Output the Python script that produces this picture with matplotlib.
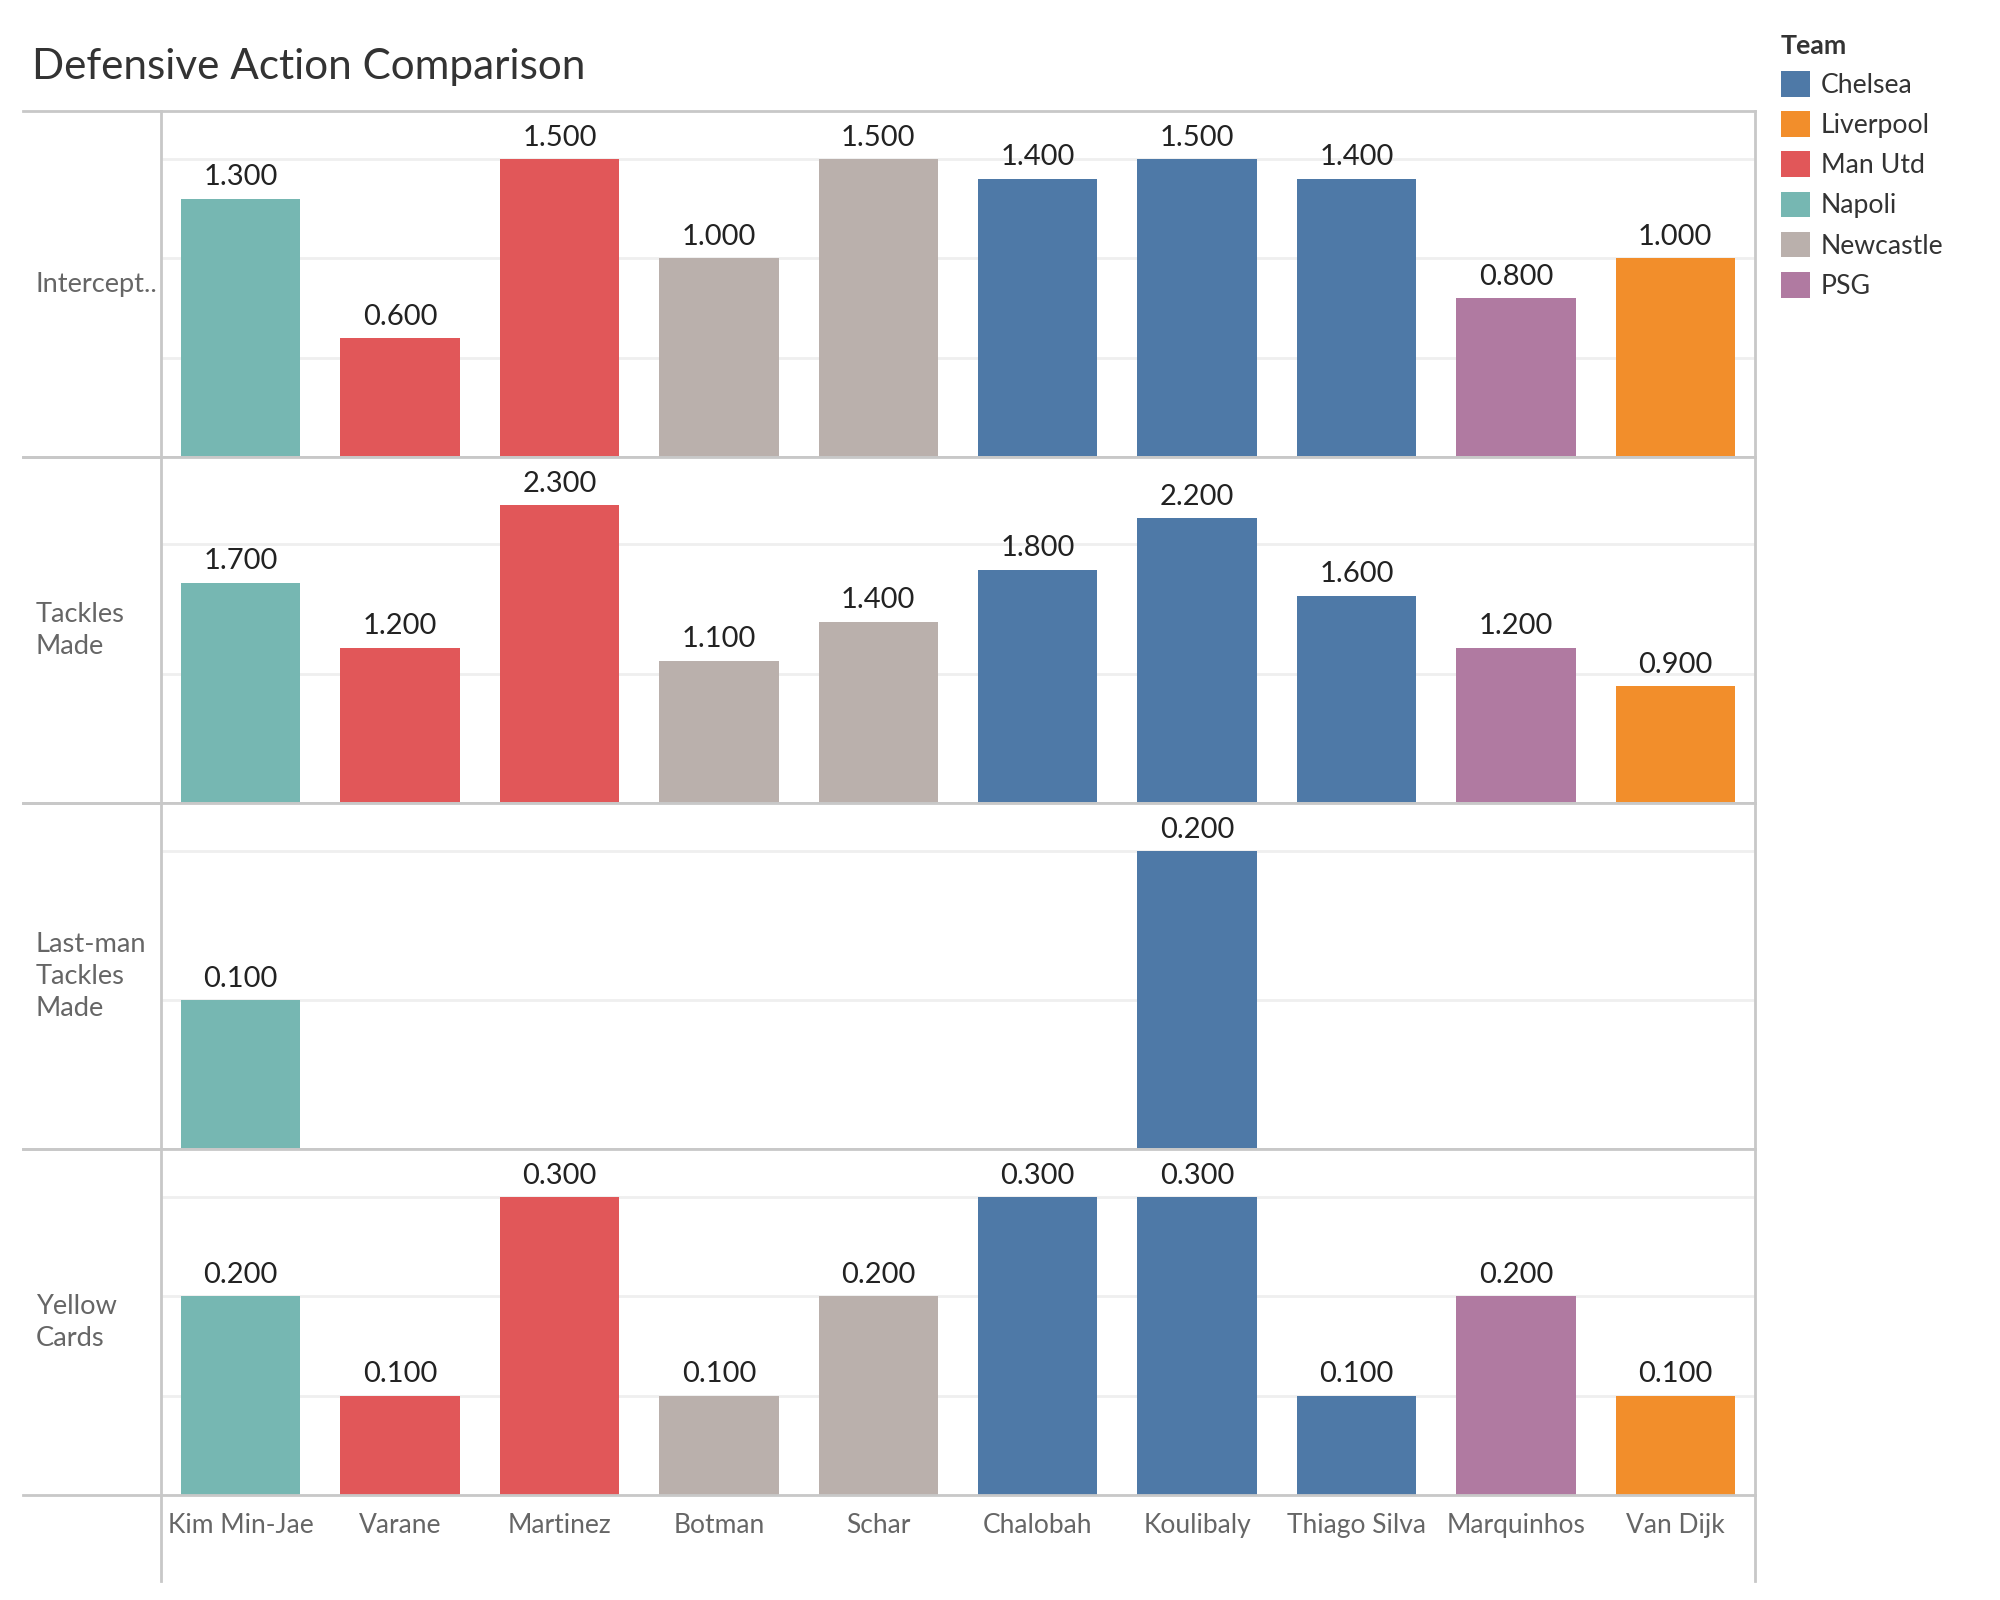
import numpy as np
import matplotlib.pyplot as plt
from matplotlib.lines import Line2D
from matplotlib.patches import Patch
from matplotlib.ticker import MultipleLocator

plt.rcParams['font.family'] = ['Lato', 'DejaVu Sans']

# --- data ---
players = ["Kim Min-Jae", "Varane", "Martinez", "Botman", "Schar",
           "Chalobah", "Koulibaly", "Thiago Silva", "Marquinhos", "Van Dijk"]
player_team = ["Napoli", "Man Utd", "Man Utd", "Newcastle", "Newcastle",
               "Chelsea", "Chelsea", "Chelsea", "PSG", "Liverpool"]

interceptions = [1.3, 0.6, 1.5, 1.0, 1.5, 1.4, 1.5, 1.4, 0.8, 1.0]
tackles_made = [1.7, 1.2, 2.3, 1.1, 1.4, 1.8, 2.2, 1.6, 1.2, 0.9]
last_man_tackles = [0.1, np.nan, np.nan, np.nan, np.nan, np.nan, 0.2, np.nan, np.nan, np.nan]
yellow_cards = [0.2, 0.1, 0.3, 0.1, 0.2, 0.3, 0.3, 0.1, 0.2, 0.1]

row_labels = ["Intercept..", "Tackles\nMade", "Last-man\nTackles\nMade", "Yellow\nCards"]
row_values = [interceptions, tackles_made, last_man_tackles, yellow_cards]
grid_steps = [0.5, 1.0, 0.1, 0.1]

teams = ["Chelsea", "Liverpool", "Man Utd", "Napoli", "Newcastle", "PSG"]
team_colors = ["#4E79A7", "#F28E2B", "#E15759", "#76B7B2", "#BAB0AC", "#B07AA1"]
color_of = dict(zip(teams, team_colors))

border = "#c8c8c8"
grid_col = "#efefef"
label_col = "#666666"

fig = plt.figure(figsize=(10, 8), dpi=200)
gs = fig.add_gridspec(4, 1, left=0.0805, right=0.8775, top=0.9305,
                      bottom=0.0655, hspace=0)

x = np.arange(len(players))
bar_colors = [color_of[t] for t in player_team]
axes = []

for i, (vals, step) in enumerate(zip(row_values, grid_steps)):
    ax = fig.add_subplot(gs[i])
    axes.append(ax)
    vals = np.array(vals, dtype=float)
    heights = np.nan_to_num(vals)
    bars = ax.bar(x, heights, width=0.75, color=bar_colors, zorder=2)
    labels = ["" if np.isnan(v) else f"{v:.3f}" for v in vals]
    ax.bar_label(bars, labels=labels, padding=3, fontsize=10.5, color="#222222")

    ax.set_xlim(-0.5, len(players) - 0.5)
    ax.set_ylim(0, np.nanmax(vals) * 1.16)
    ax.yaxis.set_major_locator(MultipleLocator(step))
    ax.grid(axis='y', color=grid_col, linewidth=1, zorder=0)
    ax.tick_params(left=False, labelleft=False, bottom=False, labelbottom=False)
    for side in ['top', 'bottom', 'left', 'right']:
        ax.spines[side].set_color(border)
        ax.spines[side].set_linewidth(1)

    # row header on the left
    pos = ax.get_position()
    fig.text(0.018, (pos.y0 + pos.y1) / 2, row_labels[i], ha='left', va='center',
             fontsize=9.8, color=label_col, linespacing=1.35)
    # header separator lines extend into the label column
    for yy in (pos.y0, pos.y1):
        fig.add_artist(Line2D([0.0115, pos.x0], [yy, yy], color=border,
                              linewidth=1, transform=fig.transFigure))

bottom_ax = axes[-1]
bottom_ax.tick_params(labelbottom=True, pad=3, labelsize=9.5, labelcolor=label_col)
bottom_ax.set_xticks(x)
bottom_ax.set_xticklabels(players)

# vertical lines continue through the x-label band
pos = bottom_ax.get_position()
for xx in (pos.x0, pos.x1):
    fig.add_artist(Line2D([xx, xx], [0.012, pos.y0], color=border,
                          linewidth=1, transform=fig.transFigure))

fig.text(0.016, 0.958, "Defensive Action Comparison", fontsize=15.2,
         color="#333333", ha='left', va='center')

handles = [Patch(facecolor=c, edgecolor='none', label=t) for t, c in zip(teams, team_colors)]
leg = fig.legend(handles=handles, title="Team", loc='upper left',
                 bbox_to_anchor=(0.8905, 0.979), frameon=False, fontsize=9.6,
                 title_fontproperties={'weight': 'bold', 'size': 9.6},
                 handlelength=1.1, handleheight=1.1, handletextpad=0.4,
                 labelspacing=0.5, borderaxespad=0, borderpad=0, alignment='left')
for t in leg.get_texts():
    t.set_color("#333333")
leg.get_title().set_color("#333333")

fig.savefig("out.png", dpi=200)
